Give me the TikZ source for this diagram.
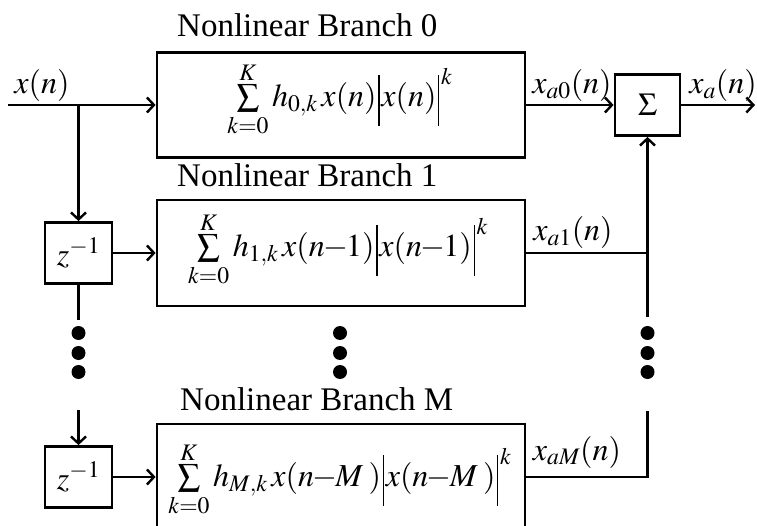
\documentclass[tikz,border=0pt]{standalone}
\usepackage{mathptmx}
\usepackage{fontspec}
\setmainfont{Liberation Serif}
\usetikzlibrary{arrows.meta}
% thin tall absolute-value bars
\newcommand{\lbar}{\mathord{\mkern1mu\vrule height 31pt depth 20pt width 1.2pt\mkern1mu}}
% summation with limits set close to the sign
\newcommand{\nlsum}{\mathop{\sum}\limits_{\raisebox{5pt}{$\scriptstyle k=0$}}^{\raisebox{-5pt}{$\scriptstyle K$}}}
\newcommand{\tm}{\mkern-1mu{-}\mkern-1mu}
\begin{document}
\begin{tikzpicture}[x=1pt,y=-1pt,
  every node/.style={font=\fontsize{32}{38}\selectfont},
  blk/.style={draw,line width=2.8pt,minimum width=368pt,inner sep=0pt},
  zbox/.style={draw,line width=2.8pt,minimum width=67pt,minimum height=61pt,inner sep=0pt},
  ln/.style={line width=2.4pt},
  arr/.style={line width=2.4pt,-{Straight Barb[length=7pt,width=15pt]}},
  dot/.style={circle,fill,inner sep=0pt,minimum size=14pt},
  fml/.style={inner sep=0pt},
  ttl/.style={anchor=base west,inner sep=0pt,font=\fontsize{33}{40}\selectfont}]
\clip (0,0) rectangle (757,526);
\fill[white] (0,0) rectangle (757,526);

% branch blocks
\node[blk,minimum height=105pt] (b0) at (341,105) {};
\node[blk,minimum height=106pt] (b1) at (341,253) {};
\node[blk,minimum height=106pt] (bM) at (341,477) {};

\node[fml] (f0) at (340,102) {$\nlsum h_{0,k}\mkern2mu x(n)\lbar x(n)\lbar^{k}$};
\node[fml] (f1) at (338,252) {$\nlsum h_{1,k}\mkern2mu x(n\tm 1)\lbar x(n\tm 1)\lbar^{k}$};
\node[fml] (fM) at (340,482) {$\nlsum h_{M,k}\mkern2mu x(n\tm M\mkern3mu)\lbar x(n\tm M\mkern3mu)\lbar^{k}$};

% branch titles
\node[ttl] (t0) at (177,37) {Nonlinear Branch 0};
\node[ttl] (t1) at (177,187) {Nonlinear Branch 1};
\node[ttl] (tM) at (180,410) {Nonlinear Branch M};

% delays and summer
\node[zbox] (z1) at (78.5,253) {$z^{-1}$};
\node[zbox] (zM) at (78.5,477) {$z^{-1}$};
\node[zbox,minimum width=65pt] (sum) at (647.5,105) {$\Sigma$};

% ellipsis dots
\foreach \c/\xx in {l/78.5,m/340,r/647.5}{
  \node[dot] (d\c1) at (\xx,333) {};
  \node[dot] (d\c2) at (\xx,353) {};
  \node[dot] (d\c3) at (\xx,372) {};
}

% signal labels
\node[fml] (lx) at (42,86) {$x(n)$};
\node[fml] (la0) at (572,86) {$x_{a0}(n)$};
\node[fml] (la) at (723,86) {$x_{a}(n)$};
\node[fml] (la1) at (573,233) {$x_{a1}(n)$};
\node[fml] (laM) at (577,452) {$x_{aM}(n)$};

% connection points
\coordinate (in) at (8,105);
\coordinate (br) at (78.5,105);
\coordinate (c1) at (78.5,320);
\coordinate (c2) at (78.5,410);
\coordinate (out) at (755,105);
\coordinate (j1) at (647.5,253);
\coordinate (j2) at (647.5,317);
\coordinate (jM) at (647.5,477);
\coordinate (j3) at (647.5,411);

% signal flow
\draw[arr] (in) -- (b0);
\draw[arr] (br) -- (z1);
\draw[arr] (z1) -- (b1);
\draw[ln] (z1) -- (c1);
\draw[arr] (c2) -- (zM);
\draw[arr] (zM) -- (bM);
\draw[arr] (b0) -- (sum);
\draw[arr] (sum) -- (out);
\draw[ln] (b1) -- (j1);
\draw[arr] (j2) -- (sum);
\draw[ln] (bM) -- (jM) -- (j3);
\end{tikzpicture}
\end{document}
